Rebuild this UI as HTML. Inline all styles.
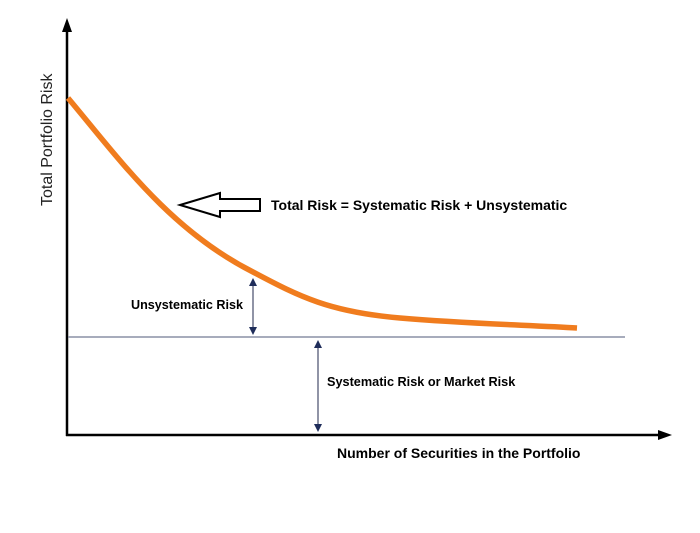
<!DOCTYPE html><html><head><style>body{margin:0;background:#fff}svg{display:block}text{font-family:"Liberation Sans",Arial,sans-serif}</style></head><body>
<svg width="700" height="533" viewBox="0 0 700 533">
<defs><marker id="a" markerWidth="8" markerHeight="8" refX="4" refY="4" orient="auto-start-reverse" markerUnits="userSpaceOnUse"><path d="M0,0 L8,4 L0,8 z" fill="#1f2d5a"/></marker></defs>
<line x1="67" y1="436" x2="67" y2="30" stroke="#000" stroke-width="2.5"/>
<path d="M62,32 L67,18 L72,32 z" fill="#000"/>
<line x1="66" y1="435" x2="660" y2="435" stroke="#000" stroke-width="2.5"/>
<path d="M658,430 L672,435 L658,440 z" fill="#000"/>
<line x1="68" y1="337" x2="625" y2="337" stroke="#8a90a5" stroke-width="1.5"/>
<path d="M68,98 C120,160 170,230 253,272 C300,297 330,312 400,318 C470,324 530,325 577,328" fill="none" stroke="#f07c1e" stroke-width="5.5"/>
<line x1="253" y1="282" x2="253" y2="331" stroke="#555a75" stroke-width="1.3" marker-start="url(#a)" marker-end="url(#a)"/>
<line x1="318" y1="344" x2="318" y2="428" stroke="#555a75" stroke-width="1.3" marker-start="url(#a)" marker-end="url(#a)"/>
<path d="M180,205 L220,193 L220,199 L260,199 L260,211 L220,211 L220,217 z" fill="#fff" stroke="#000" stroke-width="2"/>
<text x="271" y="210" font-size="14" font-weight="bold">Total Risk = Systematic Risk + Unsystematic</text>
<text x="131" y="309" font-size="12.6" font-weight="bold">Unsystematic Risk</text>
<text x="327" y="386" font-size="12.7" font-weight="bold">Systematic Risk or Market Risk</text>
<text x="337" y="458" font-size="14" font-weight="bold">Number of Securities in the Portfolio</text>
<text transform="translate(52,206) rotate(-90)" font-size="16" fill="#222">Total Portfolio Risk</text>
</svg></body></html>
